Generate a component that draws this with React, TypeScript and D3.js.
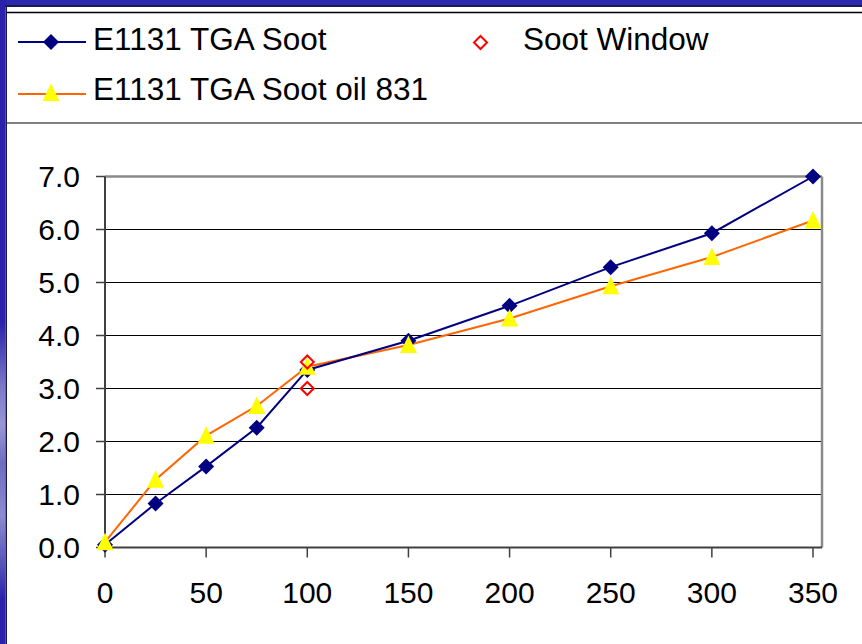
import React from "react";
import * as d3 from "d3";

const xValues = [0, 25, 50, 75, 100, 150, 200, 250, 300, 350];
const sootValues = [0.05, 0.83, 1.53, 2.26, 3.35, 3.9, 4.56, 5.29, 5.93, 7.0];
const oilValues = [0.1, 1.28, 2.11, 2.67, 3.41, 3.82, 4.32, 4.93, 5.48, 6.17];
const windowX = [100, 100];
const windowY = [3.5, 3.0];
const xTicks = [0, 50, 100, 150, 200, 250, 300, 350];
const yTicks = [0, 1, 2, 3, 4, 5, 6, 7];

const W = 862;
const H = 644;
const FONT = "'Liberation Sans', Arial, sans-serif";

export default function App() {
  const x = d3.scaleLinear().domain([0, 350]).range([105, 813]);
  const y = d3.scaleLinear().domain([0, 7]).range([547.5, 176.5]);
  const plotLeft = x(0);
  const plotRight = 822;
  const plotTop = y(7);
  const plotBottom = y(0);

  const line = d3
    .line<number>()
    .x((_, i) => x(xValues[i]))
    .y((d) => y(d));

  const diamond = (cx: number, cy: number, r: number) =>
    `M${cx},${cy - r}L${cx + r},${cy}L${cx},${cy + r}L${cx - r},${cy}Z`;
  const triangle = (cx: number, cy: number) =>
    `M${cx},${cy - 9.5}L${cx + 8.5},${cy + 8}L${cx - 8.5},${cy + 8}Z`;

  return (
    <svg
      width={W}
      height={H}
      style={{ position: "fixed", left: 0, top: 0, display: "block" }}
      fontFamily={FONT}
    >
      <defs>
        <linearGradient id="leftGrad" x1="0" y1="0" x2="0" y2="1">
          <stop offset="0" stopColor="#2a22aa" />
          <stop offset="0.5" stopColor="#2a22aa" />
          <stop offset="0.6" stopColor="#7c79c8" />
          <stop offset="0.66" stopColor="#9896d6" />
          <stop offset="0.72" stopColor="#6e6cc0" />
          <stop offset="0.8" stopColor="#8c8ad0" />
          <stop offset="0.88" stopColor="#5350b8" />
          <stop offset="0.93" stopColor="#2a22aa" />
          <stop offset="1" stopColor="#2a22aa" />
        </linearGradient>
      </defs>
      <rect x={0} y={0} width={W} height={H} fill="#ffffff" />
      {/* slide frame */}
      <rect x={0} y={0} width={W} height={5} fill="#2b2aae" />
      <rect x={0} y={5} width={W} height={2} fill="#1a1a4a" />
      <rect x={0} y={0} width={5.5} height={H} fill="url(#leftGrad)" />
      <rect x={5.5} y={5} width={1.5} height={H} fill="#1a1a4a" />
      {/* chart border lines */}
      <line x1={7} x2={W} y1={12.5} y2={12.5} stroke="#000" strokeWidth={1.5} />
      <line x1={7} x2={W} y1={123} y2={123} stroke="#808080" strokeWidth={2} />

      {/* legend */}
      <g>
        <line x1={18} x2={86} y1={42} y2={42} stroke="#000080" strokeWidth={2} />
        <path d={diamond(51, 42, 8)} fill="#000080" />
        <text x={93} y={50} fontSize={31.5} fill="#000">E1131 TGA Soot</text>
        <line x1={18} x2={86} y1={94} y2={94} stroke="#ff6600" strokeWidth={2} />
        <path d={triangle(51, 93)} fill="#ffff00" />
        <text x={93} y={100} fontSize={31.5} fill="#000">E1131 TGA Soot oil 831</text>
        <path d={diamond(480.5, 42.5, 6.5)} fill="none" stroke="#ff0000" strokeWidth={2} />
        <text x={523} y={50} fontSize={31.5} fill="#000">Soot Window</text>
      </g>

      {/* gridlines */}
      {yTicks.slice(1, -1).map((t) => (
        <line key={t} x1={plotLeft} x2={plotRight} y1={y(t)} y2={y(t)} stroke="#000" strokeWidth={1.2} />
      ))}
      {/* plot border */}
      <line x1={plotLeft} x2={plotRight} y1={plotTop} y2={plotTop} stroke="#8a8a8a" strokeWidth={2.5} />
      <line x1={plotRight} x2={plotRight} y1={plotTop} y2={plotBottom} stroke="#8a8a8a" strokeWidth={2.5} />
      {/* axes */}
      <line x1={plotLeft} x2={plotLeft} y1={plotTop} y2={plotBottom} stroke="#404040" strokeWidth={2} />
      <line x1={plotLeft} x2={plotRight} y1={plotBottom} y2={plotBottom} stroke="#404040" strokeWidth={2} />
      {yTicks.map((t) => (
        <g key={t}>
          <line x1={plotLeft - 9} x2={plotLeft} y1={y(t)} y2={y(t)} stroke="#404040" strokeWidth={1.5} />
          <text x={80} y={y(t) + 10.5} fontSize={30} textAnchor="end" fill="#000">
            {t.toFixed(1)}
          </text>
        </g>
      ))}
      {xTicks.map((t) => (
        <g key={t}>
          <line x1={x(t)} x2={x(t)} y1={plotBottom} y2={plotBottom + 10} stroke="#404040" strokeWidth={1.5} />
          <text x={x(t)} y={603} fontSize={30} textAnchor="middle" fill="#000">
            {t}
          </text>
        </g>
      ))}

      {/* series */}
      <path d={line(oilValues) || ""} fill="none" stroke="#ff6600" strokeWidth={2} />
      <path d={line(sootValues) || ""} fill="none" stroke="#000080" strokeWidth={2} />
      {sootValues.map((v, i) => (
        <path key={"s" + i} d={diamond(x(xValues[i]), y(v), 8)} fill="#000080" />
      ))}
      {oilValues.map((v, i) => (
        <path key={"o" + i} d={triangle(x(xValues[i]), y(v))} fill="#ffff00" />
      ))}
      {windowY.map((v, i) => (
        <path key={"w" + i} d={diamond(x(windowX[i]), y(v), 6.5)} fill="none" stroke="#ff0000" strokeWidth={2} />
      ))}
    </svg>
  );
}
